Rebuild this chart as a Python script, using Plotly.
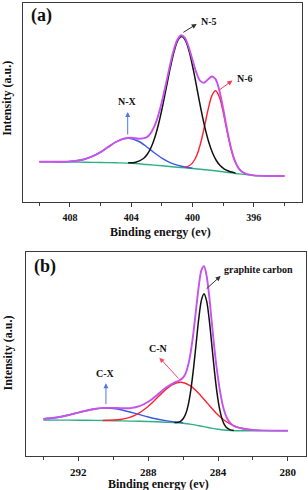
import plotly.graph_objects as go

# ---------------- Panel (a): N 1s ----------------
a_base_x = [410, 409, 408, 407, 406, 405, 404, 403, 402, 401, 400, 399, 398, 397, 396, 395, 394]
a_base_y = [40.3, 40.2, 40.0, 39.8, 39.5, 39.2, 38.7, 37.5, 36.2, 34.8, 33.5, 32.0, 30.3, 28.2, 26.5, 26.0, 26.0]

a_nx_x = [409, 408, 407, 406, 405.5, 405, 404.5, 404.15, 403.5, 403, 402.5, 402, 401.5, 401, 400.5, 400]
a_nx_y = [40.3, 40.6, 43.0, 49.9, 55.0, 60.0, 63.1, 63.6, 60.5, 55.3, 49.3, 43.9, 39.7, 36.8, 35.0, 33.8]

a_n5_x = [404.2, 403.7, 403.2, 402.95, 402.7, 402.45, 402.2, 401.95, 401.7, 401.45, 401.2, 400.95, 400.7,
          400.45, 400.2, 399.95, 399.7, 399.45, 399.2, 398.95, 398.7, 398.45, 398.2, 397.95, 397.7, 397.2]
a_n5_y = [39.2, 39.8, 43.5, 47.8, 54.8, 65.1, 79.0, 96.1, 115.3, 134.3, 150.7, 161.8, 165.4,
          161.1, 149.4, 132.3, 112.5, 92.6, 74.8, 60.2, 49.2, 41.5, 36.4, 33.2, 31.2, 28.9]

a_n6_x = [400.5, 400.25, 400.0, 399.75, 399.5, 399.25, 399.0, 398.75, 398.5, 398.25, 398.0, 397.75,
          397.5, 397.25, 397.0, 396.75, 396.5]
a_n6_y = [34.9, 36.0, 39.1, 45.7, 57.3, 73.5, 91.5, 105.9, 111.2, 105.0, 89.8, 70.9,
          53.8, 41.3, 33.8, 30.0, 28.1]

a_env_x = [410, 409.5, 409, 408.5, 408, 407.5, 407, 406.5, 406, 405.5, 405, 404.5, 404, 403.5, 403,
           402.75, 402.5, 402.25, 402, 401.75, 401.5, 401.25, 401, 400.75, 400.5, 400.25, 400,
           399.75, 399.5, 399.25, 399, 398.75, 398.5, 398.25, 398, 397.75, 397.5, 397.25, 397,
           396.75, 396.5, 396, 395, 394]
a_env_y = [40.3, 40.3, 40.3, 40.3, 40.6, 41.3, 43.0, 45.8, 49.9, 55.1, 60.0, 63.3, 64.2, 63.2, 64.6,
           68.4, 75.3, 85.9, 100.2, 117.1, 134.8, 150.7, 162.0, 166.8, 164.1, 154.9, 142.0,
           129.3, 121.1, 119.3, 122.4, 125.5, 122.9, 111.5, 93.2, 72.6, 54.6, 41.6, 33.9,
           30.0, 28.1, 26.6, 26.0, 26.0]

a_ticks = [408, 404, 400, 396]

# ---------------- Panel (b): C 1s ----------------
b_base_x = [294, 293, 292, 291, 290, 289, 288, 287, 286, 285.5, 285, 284.5, 284, 283.5, 283, 282, 281, 280]
b_base_y = [35.7, 35.6, 35.5, 35.3, 35.0, 34.6, 34.2, 33.5, 32.5, 31.3, 29.7, 28.0, 26.4, 25.5, 25.0, 25.0, 25.0, 25.0]

b_cx_x = [294, 293.5, 293, 292.5, 292, 291.5, 291, 290.5, 290, 289.5, 289, 288.5, 288, 287.5, 287, 286.5, 286]
b_cx_y = [36.8, 37.65, 39.0, 40.9, 43.1, 45.2, 46.9, 47.6, 47.2, 45.75, 43.5, 41.1, 38.7, 36.65, 35.1, 33.8, 32.9]

b_cn_x = [290.6, 289.6, 289.1, 288.6, 288.1, 287.6, 287.1, 286.6, 286.1, 285.6, 285.1, 284.6,
          284.1, 283.6, 283.1, 282.6, 282.1]
b_cn_y = [35.2, 36.2, 38.1, 41.8, 47.9, 55.9, 64.6, 71.2, 73.4, 70.1, 62.3, 52.3,
          42.5, 34.9, 29.9, 27.2, 25.9]

b_gc_x = [286.5, 286.3, 286.15, 286.0, 285.85, 285.7, 285.55, 285.4, 285.25, 285.1, 284.95, 284.8,
          284.65, 284.5, 284.35, 284.2, 284.05, 283.9, 283.75, 283.6, 283.45, 283.3, 283.1]
b_gc_y = [33.1, 33.45, 34.4, 36.9, 41.9, 51.4, 66.65, 87.75, 112.85, 137.5, 155.6, 162.0,
          154.6, 135.5, 109.9, 83.8, 61.75, 45.8, 35.75, 30.1, 27.25, 25.85, 25.2]

b_env_x = [294, 293.5, 293, 292.5, 292, 291.5, 291, 290.5, 290, 289.5, 289, 288.5, 288, 287.5, 287,
           286.5, 286.25, 286, 285.85, 285.7, 285.55, 285.4, 285.25, 285.1, 284.95, 284.8, 284.65,
           284.5, 284.35, 284.2, 284.05, 283.9, 283.75, 283.6, 283.45, 283.3, 283.1, 282.6, 282.1,
           281.5, 281, 280]
b_env_y = [36.8, 37.65, 39.0, 40.9, 43.1, 45.2, 46.9, 47.8, 47.8, 47.45, 47.6, 49.5, 53.9, 60.55, 67.9,
           73.1, 75.0, 78.2, 82.6, 91.15, 105.05, 124.4, 147.45, 169.9, 185.5, 189.4, 179.5,
           158.8, 132.0, 106.0, 84.0, 66.0, 52.0, 42.5, 36.5, 32.8, 29.9, 27.2, 25.9,
           25.3, 25.1, 25.0]

b_ticks = [292, 288, 284, 280]

# ---------------- styles ----------------
FONT = "Liberation Serif"
C_ENV = "#C653EC"
C_BLK = "#111111"
C_RED = "#FF2233"
C_BLU = "#3A5BE0"
C_GRN = "#2FAF86"
W = 308
H = 490

fig = go.Figure()


def add_line(x, y, color, width, xa, ya):
    fig.add_trace(go.Scatter(x=x, y=y, mode="lines", xaxis=xa, yaxis=ya,
                             line=dict(color=color, width=width, shape="spline", smoothing=0.8),
                             hoverinfo="skip", showlegend=False))


# panel a
add_line(a_base_x, a_base_y, C_GRN, 1.4, "x", "y")
add_line(a_nx_x, a_nx_y, C_BLU, 1.4, "x", "y")
add_line(a_n6_x, a_n6_y, C_RED, 1.4, "x", "y")
add_line(a_n5_x, a_n5_y, C_BLK, 1.5, "x", "y")
add_line(a_env_x, a_env_y, C_ENV, 1.9, "x", "y")
# panel b
add_line(b_base_x, b_base_y, C_GRN, 1.4, "x2", "y2")
add_line(b_cx_x, b_cx_y, C_BLU, 1.4, "x2", "y2")
add_line(b_cn_x, b_cn_y, C_RED, 1.4, "x2", "y2")
add_line(b_gc_x, b_gc_y, C_BLK, 1.5, "x2", "y2")
add_line(b_env_x, b_env_y, C_ENV, 1.9, "x2", "y2")

axis_line = dict(showline=True, linecolor="#3a3a3a", linewidth=1.3, mirror=True,
                 showgrid=False, zeroline=False)


def xaxis(domain, rng, ticks, fsize, anchor):
    return dict(domain=domain, range=rng, anchor=anchor, tickvals=ticks,
                ticks="outside", ticklen=4, tickwidth=1.2, tickcolor="#3a3a3a",
                ticklabelstandoff=2,
                tickfont=dict(family=FONT, size=fsize, color="#111", weight="bold"),
                minor=dict(dtick=2, tick0=ticks[-1], ticks="outside", ticklen=3,
                           tickwidth=1.1, tickcolor="#3a3a3a"),
                **axis_line)


def yaxis(domain, rng, anchor):
    return dict(domain=domain, range=rng, anchor=anchor, showticklabels=False,
                ticks="", **axis_line)


fig.update_layout(
    width=W, height=H, margin=dict(l=0, r=0, t=0, b=0),
    paper_bgcolor="white", plot_bgcolor="white",
    xaxis=xaxis([23.3 / W, 301.7 / W], [411.04, 392.88], a_ticks, 10, "y"),
    yaxis=yaxis([1 - 202 / H, 1 - 3 / H], [0, 199], "x"),
    xaxis2=xaxis([26 / W, 306 / W], [295.0, 278.96], b_ticks, 11, "y2"),
    yaxis2=yaxis([1 - 455.7 / H, 1 - 252 / H], [0, 203.7], "x2"),
)


def txt(x, y, s, size=10, xref="x", yref="y", **kw):
    kw.setdefault("xanchor", "center")
    kw.setdefault("yanchor", "middle")
    fig.add_annotation(x=x, y=y, xref=xref, yref=yref, text=s, showarrow=False,
                       font=dict(family=FONT, size=size, color="#111", weight="bold"), **kw)


def arrow(xh, yh, xt, yt, color, xref="x", yref="y"):
    fig.add_annotation(x=xh, y=yh, ax=xt, ay=yt, xref=xref, yref=yref, axref=xref, ayref=yref,
                       text="", showarrow=True, arrowhead=2, arrowsize=1, arrowwidth=1,
                       arrowcolor=color)


# panel labels
txt(29.3 / W, 1 - 16 / H, "(a)", size=18, xref="paper", yref="paper", xanchor="left")
txt(31.7 / W, 1 - 266.7 / H, "(b)", size=18, xref="paper", yref="paper", xanchor="left")

# panel a annotations
txt(398.93, 180.3, "N-5")
arrow(399.73, 178.0, 400.7, 168.7, "#333333")
txt(396.58, 123.0, "N-6")
arrow(397.4, 121.5, 398.32, 111.3, "#FF3355")
txt(404.23, 100.3, "N-X")
arrow(404.23, 90.0, 404.23, 66.0, "#5577E0")

# panel b annotations
txt(281.71, 186.4, "graphite carbon", xref="x2", yref="y2")
arrow(283.85, 179.7, 284.74, 165.7, "#333333", "x2", "y2")
txt(287.42, 107.4, "C-N", xref="x2", yref="y2")
arrow(287.36, 98.0, 286.18, 75.7, "#FF4466", "x2", "y2")
txt(290.42, 82.4, "C-X", xref="x2", yref="y2")
arrow(290.42, 72.4, 290.42, 50.0, "#5577E0", "x2", "y2")

# axis titles
for yc in (98.3, 353.0):
    txt(7.5 / W, 1 - yc / H, "Intensity (a.u.)", size=12, xref="paper", yref="paper", textangle=-90)
txt(160.3 / W, 1 - 231.7 / H, "Binding energy (ev)", size=12, xref="paper", yref="paper")
txt(158.0 / W, 1 - 484.0 / H, "Binding energy (ev)", size=12, xref="paper", yref="paper")

fig.write_html("out.html", config={"displayModeBar": False},
               post_script="document.body.style.margin='0px';"
               "document.body.style.overflow='hidden';")
